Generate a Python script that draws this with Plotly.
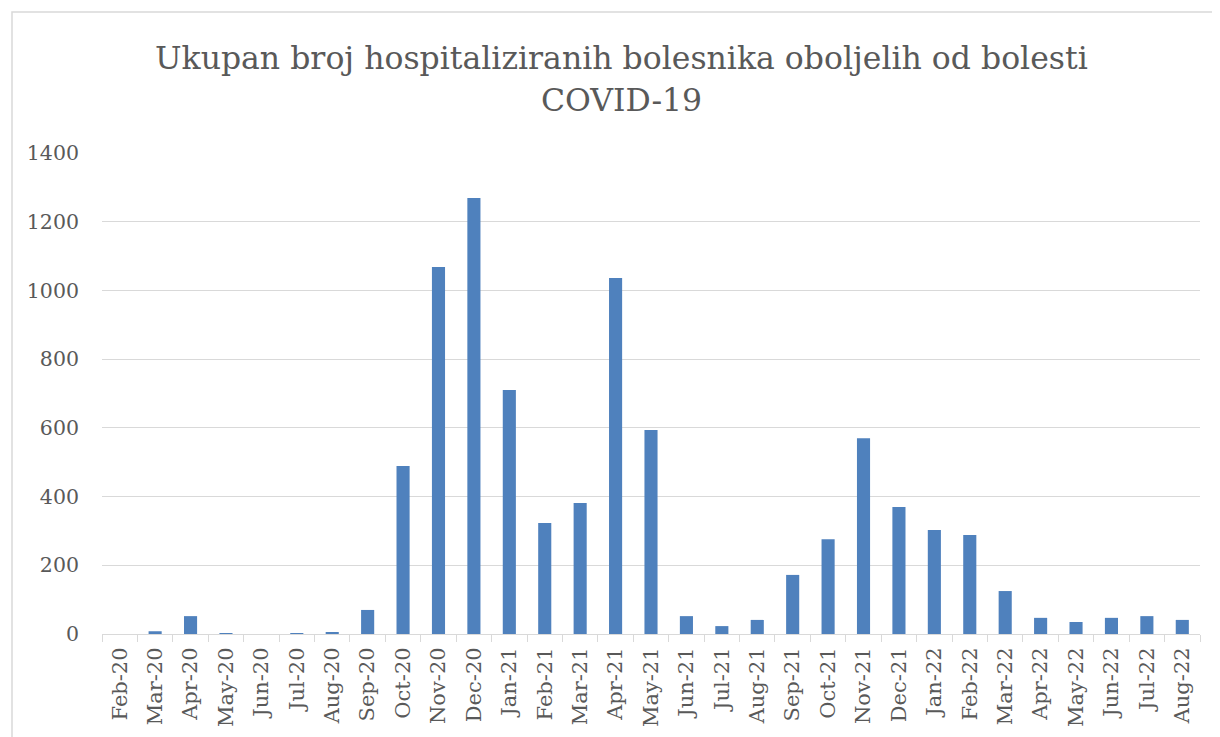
import plotly.graph_objects as go

months = ["Feb-20", "Mar-20", "Apr-20", "May-20", "Jun-20", "Jul-20", "Aug-20", "Sep-20",
          "Oct-20", "Nov-20", "Dec-20", "Jan-21", "Feb-21", "Mar-21", "Apr-21", "May-21",
          "Jun-21", "Jul-21", "Aug-21", "Sep-21", "Oct-21", "Nov-21", "Dec-21", "Jan-22",
          "Feb-22", "Mar-22", "Apr-22", "May-22", "Jun-22", "Jul-22", "Aug-22"]
hospitalized = [0, 8, 52, 2, 0, 2, 5, 70,
                489, 1068, 1269, 710, 323, 381, 1036, 594,
                52, 23, 41, 172, 276, 570, 370, 303,
                288, 125, 47, 35, 47, 52, 41]

title_lines = ["Ukupan broj hospitaliziranih bolesnika oboljelih od bolesti", "COVID-19"]
font_family = "DejaVu Serif, serif"
grey = "#595959"
OFF = 8  # page body margin

fig = go.Figure(go.Bar(x=months, y=hospitalized, marker_color="#4F81BD",
                       marker_line_width=0))

W, H = 1220, 737
ml, mr, mt, mb = 94, 28, 145, 111
pw, ph = W - ml - mr, H - mt - mb


def px_x(sx):
    return (sx - OFF - ml) / pw


def px_y(sy):
    return (H - mb - (sy - OFF)) / ph


fig.update_layout(
    width=W, height=H,
    margin=dict(l=ml, r=mr, t=mt, b=mb),
    paper_bgcolor="white", plot_bgcolor="white",
    bargap=0.63,
    showlegend=False,
    font=dict(family=font_family, color=grey),
    xaxis=dict(type="category", tickangle=-90, tickson="boundaries", ticks="outside",
               ticklen=7, tickcolor="#D9D9D9", showline=True, linecolor="#D9D9D9",
               linewidth=1, showgrid=False, ticklabelstandoff=4,
               tickfont=dict(size=21, color=grey)),
    yaxis=dict(range=[0, 1400], dtick=200, showgrid=True, gridcolor="#D9D9D9",
               gridwidth=1, zeroline=False, showline=False, ticks="",
               ticklabelstandoff=22, tickfont=dict(size=20.5, color=grey)),
)

for txt, cy in zip(title_lines, [58, 100]):
    fig.add_annotation(text=txt, xref="paper", yref="paper", x=px_x(621), y=px_y(cy),
                       xanchor="center", yanchor="middle", showarrow=False,
                       font=dict(family=font_family, size=31.5, color=grey))

fig.add_shape(type="rect", xref="paper", yref="paper",
              x0=px_x(12), x1=px_x(1240),
              y0=px_y(760), y1=px_y(12),
              line=dict(color="#D9D9D9", width=1.5), fillcolor="rgba(0,0,0,0)", layer="below")

fig.write_html("out.html")
